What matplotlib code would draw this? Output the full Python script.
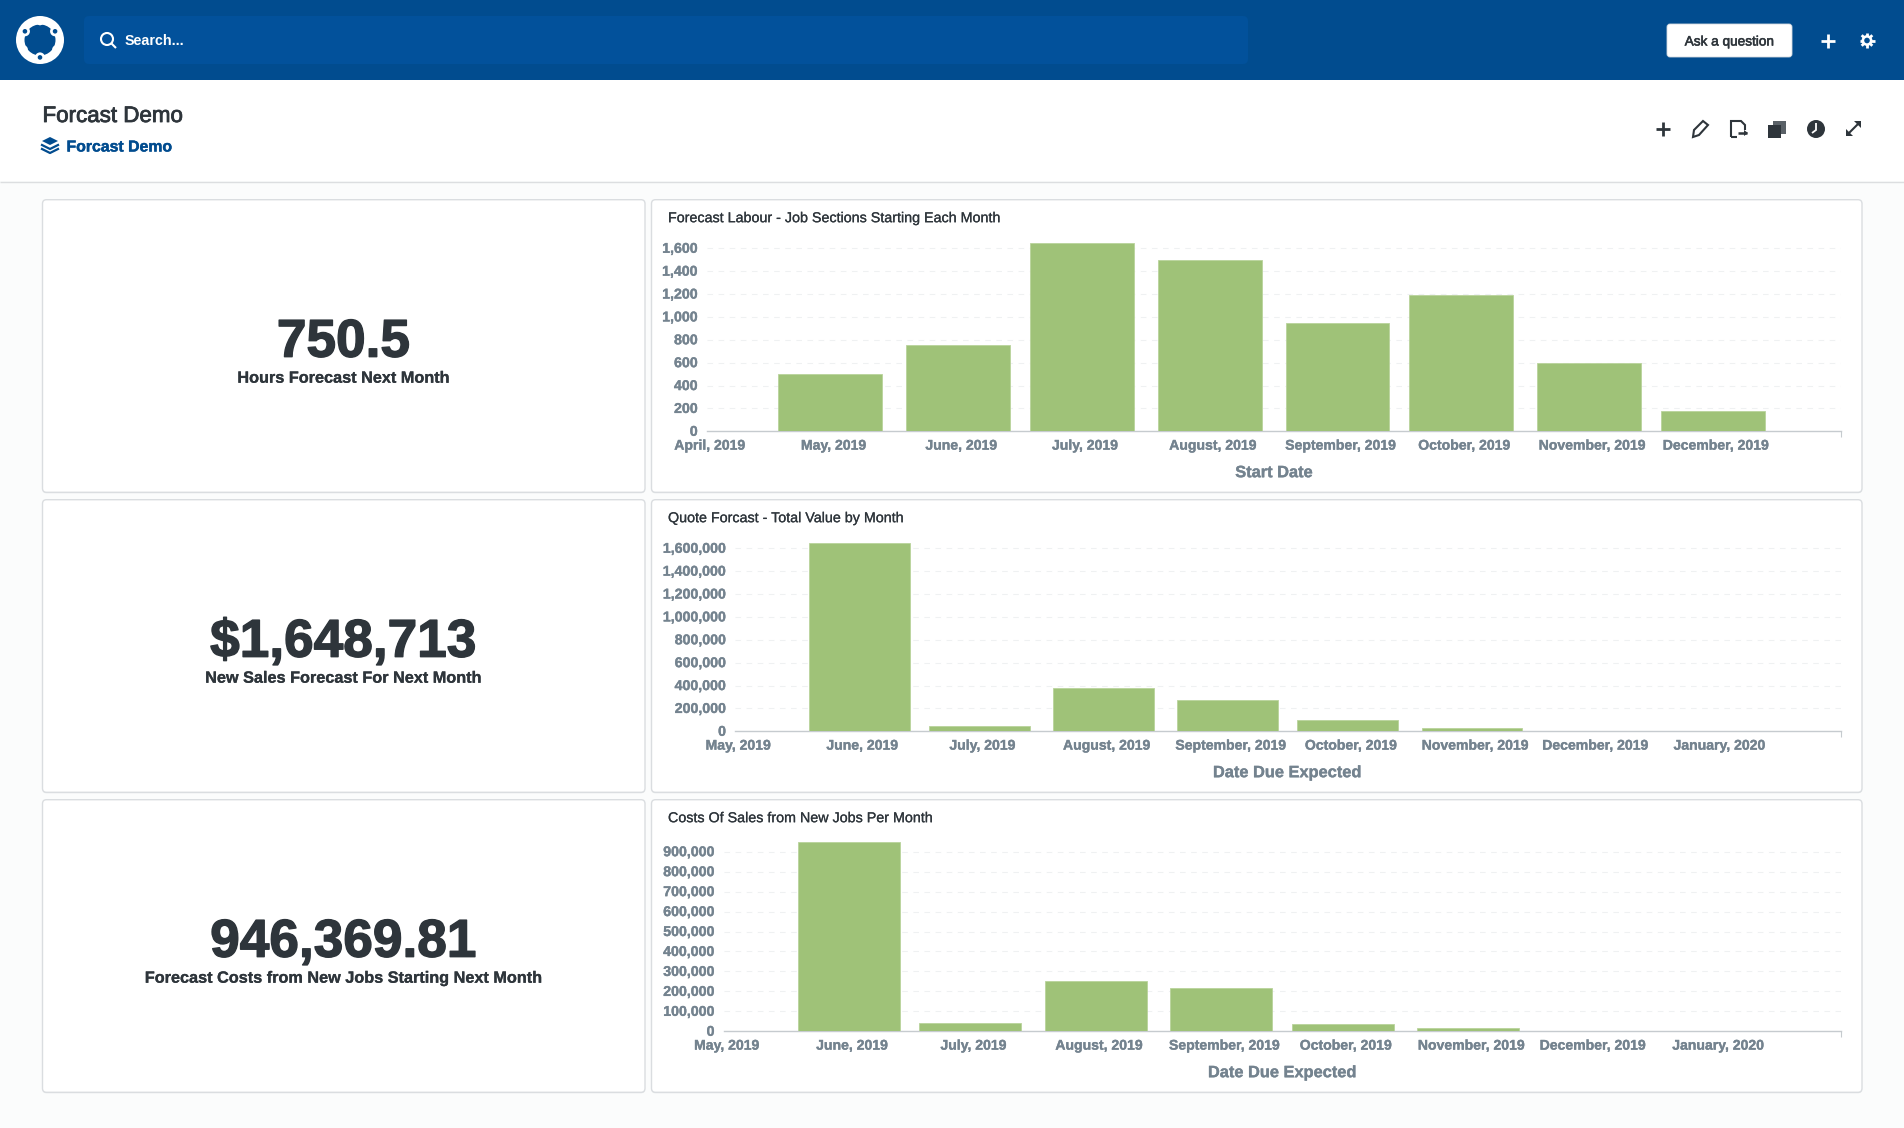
import numpy as np
import matplotlib
matplotlib.use("Agg")
import matplotlib.pyplot as plt
import matplotlib.dates as mdates
import matplotlib.patheffects as pe
from matplotlib.patches import Circle, FancyBboxPatch, Polygon, Rectangle
from matplotlib.transforms import ScaledTranslation

plt.rcParams['font.family'] = ['Liberation Sans', 'DejaVu Sans']

# chart data
labour_months = ["2019-05-01", "2019-06-01", "2019-07-01", "2019-08-01",
                 "2019-09-01", "2019-10-01", "2019-11-01", "2019-12-01"]
labour_hours = [500, 750.5, 1648, 1500, 947, 1191, 596, 180]
labour_ticks = ["2019-04-01"] + labour_months
labour_names = ["April, 2019", "May, 2019", "June, 2019", "July, 2019", "August, 2019",
                "September, 2019", "October, 2019", "November, 2019", "December, 2019"]
labour_y = [0, 200, 400, 600, 800, 1000, 1200, 1400, 1600]

due_months = ["2019-06-01", "2019-07-01", "2019-08-01", "2019-09-01", "2019-10-01", "2019-11-01"]
quote_value = [1648713, 48000, 376000, 270000, 100000, 25000]
cost_value = [946369.81, 42000, 254000, 217000, 36000, 18000]
due_ticks = ["2019-05-01"] + due_months + ["2019-12-01", "2020-01-01"]
due_names = ["May, 2019", "June, 2019", "July, 2019", "August, 2019", "September, 2019",
             "October, 2019", "November, 2019", "December, 2019", "January, 2020"]
quote_y = [0, 200000, 400000, 600000, 800000, 1000000, 1200000, 1400000, 1600000]
cost_y = [0, 100000, 200000, 300000, 400000, 500000, 600000, 700000, 800000, 900000]

kpi_values = ["750.5", "$1,648,713", "946,369.81"]
kpi_labels = ["Hours Forecast Next Month", "New Sales Forecast For Next Month",
              "Forecast Costs from New Jobs Starting Next Month"]

W, H = 1904, 1128
DARK = "#2E353B"
GREY = "#74838F"
BLUE = "#014C8F"
GREEN = "#9FC278"

fig = plt.figure(figsize=(W / 100, H / 100), dpi=100, facecolor="#FBFCFC")

# page furniture is drawn in pixel coordinates on one big axes
bg = fig.add_axes([0, 0, 1, 1])
bg.set_xlim(0, W)
bg.set_ylim(H, 0)
bg.axis("off")


def heavier(text, width, color):
    text.set_path_effects([pe.withStroke(linewidth=width, foreground=color)])


def card(x0, y0, x1, y1):
    bg.add_patch(FancyBboxPatch((x0, y0 + 1), x1 - x0, y1 - y0, boxstyle="round,pad=0,rounding_size=4",
                                fc="#E6E8EA", ec="none"))
    bg.add_patch(FancyBboxPatch((x0, y0), x1 - x0, y1 - y0, boxstyle="round,pad=0,rounding_size=4",
                                fc="white", ec="#DADDE0", lw=1.0))


def line(xs, ys, color=DARK, lw=1.5):
    bg.plot(xs, ys, color=color, lw=lw, solid_capstyle="butt", solid_joinstyle="miter")


def plus(x, y, r, color, lw=1.8):
    line([x - r, x + r], [y, y], color, lw)
    line([x, x], [y - r, y + r], color, lw)


def gear(x, y, color, bgcolor):
    for a in np.arange(0, np.pi, np.pi / 4):
        dx, dy = 7.5 * np.cos(a), 7.5 * np.sin(a)
        line([x - dx, x + dx], [y - dy, y + dy], color, 2.0)
    bg.add_patch(Circle((x, y), 5.4, fc=color, ec="none", zorder=3))
    bg.add_patch(Circle((x, y), 2.8, fc=bgcolor, ec="none", zorder=4))


def logo(x, y):
    bg.add_patch(Circle((x, y), 24, fc="white", ec="none", zorder=3))
    bg.add_patch(Circle((x, y), 15.5, fc=BLUE, ec="none", zorder=4))
    for a in [-150, -30, 90]:
        dx, dy = 17.4 * np.cos(np.radians(a)), 17.4 * np.sin(np.radians(a))
        bg.add_patch(Circle((x + dx, y + dy), 5.0, fc="white", ec="none", zorder=5))
        bg.add_patch(Circle((x + dx, y + dy), 2.3, fc=BLUE, ec="none", zorder=6))
    for a in [-90, 30, 150]:
        dx, dy = 18.5 * np.cos(np.radians(a)), 18.5 * np.sin(np.radians(a))
        bg.add_patch(Circle((x + dx, y + dy), 3.8, fc="white", ec="none", zorder=5))


def layers(x, y):
    bg.add_patch(Polygon([(x - 8, y - 4), (x, y - 8), (x + 8, y - 4), (x, y)], fc=BLUE, ec="none"))
    for dy in [0, 4]:
        bg.plot([x - 8, x, x + 8], [y + dy, y + dy + 4, y + dy], color=BLUE, lw=1.6)


# top bar and title band
bg.add_patch(Rectangle((0, 0), W, 80, fc=BLUE, ec="none"))
bg.add_patch(FancyBboxPatch((84, 16), 1164, 48, boxstyle="round,pad=0,rounding_size=5", fc="#02519B", ec="none"))
bg.add_patch(Rectangle((0, 80), W, 101, fc="white", ec="none"))
line([0, W], [181.5, 181.5], "#DCDEE0", 1.0)
logo(40, 40)
bg.add_patch(Circle((107, 39), 6, fc="none", ec="white", lw=1.5))
line([111.5, 116], [43.5, 48], "white", 1.5)
bg.text(125, 41, "Search...", color="white", fontsize=10.3, fontweight="bold", va="center")
bg.add_patch(FancyBboxPatch((1667, 24), 125, 33, boxstyle="round,pad=0,rounding_size=3", fc="white", ec="#D5DAE0", lw=0.6))
heavier(bg.text(1729.5, 41.5, "Ask a question", color=DARK, fontsize=9.8, ha="center", va="center"), 0.4, DARK)
plus(1828, 40.5, 7, "white", 2)
gear(1867, 40.5, "white", BLUE)

heavier(bg.text(42.5, 116.5, "Forcast Demo", color=DARK, fontsize=16.1, va="center"), 0.6, DARK)
layers(50, 145)
heavier(bg.text(66.5, 147, "Forcast Demo", color=BLUE, fontsize=11.4, fontweight="bold", va="center"), 0.3, BLUE)

# header icons
plus(1663, 129, 7, DARK, 2)
bg.add_patch(Polygon([(1693, 137), (1694, 130), (1703, 121), (1708, 125), (1699, 135)], fc="none", ec=DARK, lw=1.5))
line([1731, 1731, 1741, 1745, 1745], [137, 121, 121, 125, 130], DARK, 1.5)
line([1731, 1737], [137, 137], DARK, 1.5)
line([1738, 1747], [133, 133], DARK, 1.8)
bg.add_patch(Polygon([(1744, 130), (1748, 133), (1744, 136)], fc=DARK, ec="none"))
bg.add_patch(Rectangle((1773, 121), 13, 13, fc="#5A6167", ec="none"))
bg.add_patch(Rectangle((1768, 125), 13, 13, fc=DARK, ec="none"))
bg.add_patch(Circle((1816, 129), 9, fc=DARK, ec="none"))
line([1816, 1816, 1812], [123, 130, 133], "white", 1.3)
line([1847, 1860], [135, 122], DARK, 1.5)
bg.add_patch(Polygon([(1854, 121), (1861, 121), (1861, 128)], fc=DARK, ec="none"))
bg.add_patch(Polygon([(1846, 129), (1846, 136), (1853, 136)], fc=DARK, ec="none"))


def bar_chart(row, title, months, values, tick_dates, tick_names, y_ticks, y_tick_px,
              left, start, end, xlabel, xlabel_x):
    y0 = 199.7 + 300 * row
    card(651.5, y0, 1862, y0 + 292.6)
    heavier(bg.text(668, y0 + 18.5, title, color=DARK, fontsize=10.3, va="center"), 0.15, DARK)

    base = y0 + 231.6
    top = y0 + 40
    right = 1840.5
    ax = fig.add_axes([left / W, 1 - base / H, (right - left) / W, (base - top) / H], facecolor="none")
    ax.bar(mdates.datestr2num(months), values, width=25.2, color=GREEN, edgecolor="#B9D39B", linewidth=0.6, zorder=3)
    ax.set_xlim(mdates.datestr2num(start), mdates.datestr2num(end))
    ax.set_ylim(0, y_ticks[-1] * (base - top) / (base - y_tick_px))

    ax.set_xticks(mdates.datestr2num(tick_dates))
    ax.set_xticklabels(tick_names, fontsize=10.1, fontweight="bold", color=GREY, va="baseline")
    ax.set_xticks(ax.get_xlim(), minor=True)
    ax.tick_params(axis="x", which="major", length=0, pad=13.2)
    ax.tick_params(axis="x", which="minor", length=4, color="#C6CBCF", width=0.8)
    shift = ScaledTranslation(3 / 100, 0, fig.dpi_scale_trans)
    for lab in ax.get_xticklabels():
        lab.set_transform(lab.get_transform() + shift)
        heavier(lab, 0.25, GREY)

    ax.set_yticks(y_ticks)
    ax.set_yticklabels([f"{v:,}" for v in y_ticks], fontsize=10.2, fontweight="bold", color=GREY)
    ax.tick_params(axis="y", length=0, pad=6.5)
    lift = ScaledTranslation(0, 1 / 100, fig.dpi_scale_trans)
    for lab in ax.get_yticklabels():
        lab.set_transform(lab.get_transform() + lift)
        heavier(lab, 0.25, GREY)
    ax.grid(axis="y", color="#EFF1F2", linewidth=0.8, linestyle=(0, (5, 5)))
    ax.set_axisbelow(True)
    for side in ["top", "left", "right"]:
        ax.spines[side].set_visible(False)
    ax.spines["bottom"].set_color("#C6CBCF")
    ax.spines["bottom"].set_linewidth(1.0)

    t = bg.text(xlabel_x, y0 + 273, xlabel, color=GREY, fontsize=11.8, fontweight="bold", ha="center", va="center")
    heavier(t, 0.25, GREY)


for i in range(3):
    y0 = 199.7 + 300 * i
    card(42.5, y0, 645, y0 + 292.6)
    t = bg.text(343.5, y0 + 143, kpi_values[i], color=DARK, fontsize=38.3, fontweight="bold", ha="center", va="center")
    heavier(t, 1.0, DARK)
    t = bg.text(343.5, y0 + 178.5, kpi_labels[i], color=DARK, fontsize=11.7, fontweight="bold", ha="center", va="center")
    heavier(t, 0.2, DARK)

bar_chart(0, "Forecast Labour - Job Sections Starting Each Month", labour_months, labour_hours,
          labour_ticks, labour_names, labour_y, 248.3, 706.7, "2019-04-01", "2020-01-01", "Start Date", 1274)
bar_chart(1, "Quote Forcast - Total Value by Month", due_months, quote_value,
          due_ticks, due_names, quote_y, 548.3, 735, "2019-05-01", "2020-02-01", "Date Due Expected", 1287)
bar_chart(2, "Costs Of Sales from New Jobs Per Month", due_months, cost_value,
          due_ticks, due_names, cost_y, 851.7, 723.5, "2019-05-01", "2020-02-01", "Date Due Expected", 1282)

fig.savefig("out.png", dpi=100, facecolor=fig.get_facecolor())
